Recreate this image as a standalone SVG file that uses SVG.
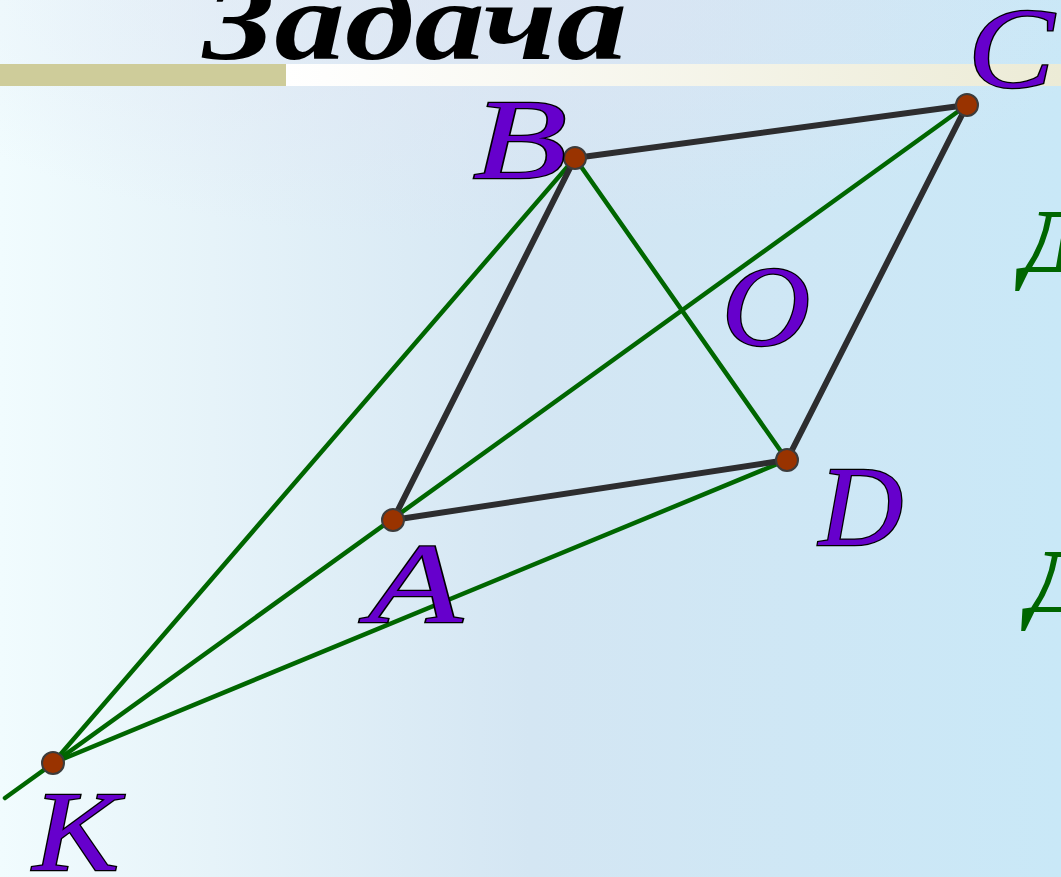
<svg xmlns="http://www.w3.org/2000/svg" width="1061" height="877" viewBox="0 0 1061 877">
<defs>
<linearGradient id="bg" x1="0" y1="0" x2="1" y2="0">
<stop offset="0" stop-color="#f1fcfe"/>
<stop offset="0.2" stop-color="#e6f3f9"/>
<stop offset="0.5" stop-color="#d4e6f3"/>
<stop offset="1" stop-color="#c9e8f7"/>
</linearGradient>
<radialGradient id="topfade" cx="0.45" cy="0" r="0.6">
<stop offset="0" stop-color="#dfe5f3" stop-opacity="0.7"/>
<stop offset="1" stop-color="#dfe5f3" stop-opacity="0"/>
</radialGradient>
<linearGradient id="bar" x1="0" y1="0" x2="1" y2="0">
<stop offset="0" stop-color="#ffffff"/>
<stop offset="1" stop-color="#ecebd6"/>
</linearGradient>
<style>
.g{stroke:#006600;stroke-width:4.5;fill:none;stroke-linecap:round}
.s{stroke:#2d2d2f;stroke-width:6;fill:none;stroke-linecap:round}
.p{fill:#993300;stroke:#3c3c3c;stroke-width:2}
.lbl{font-family:"Liberation Serif","Times New Roman",serif;font-style:italic;font-size:114px;fill:#6600cc;stroke:#000;stroke-width:2.5;paint-order:stroke}
.gr{font-family:"Liberation Serif","Times New Roman",serif;font-style:italic;font-weight:bold;font-size:90px;fill:#006600}
</style>
</defs>
<rect width="1061" height="877" fill="url(#bg)"/>
<rect width="1061" height="400" fill="url(#topfade)"/>
<g id="title">
<text x="203" y="59" font-family="'Liberation Serif','Times New Roman',serif" font-weight="bold" font-style="italic" font-size="112" fill="#000" textLength="424" lengthAdjust="spacingAndGlyphs">Задача</text>
</g>
<g id="bar">
<rect x="0" y="64" width="286" height="22" fill="#cecc9a"/>
<rect x="286" y="64" width="775" height="22" fill="url(#bar)"/>
</g>
<g id="connectors">
<line class="g" x1="5" y1="798" x2="967" y2="105"/>
<line class="g" x1="53" y1="763" x2="575" y2="158"/>
<line class="g" x1="53" y1="763" x2="787" y2="460"/>
<line class="g" x1="575" y1="158" x2="787" y2="460"/>
<line class="s" x1="393" y1="520" x2="575" y2="158"/>
<line class="s" x1="575" y1="158" x2="967" y2="105"/>
<line class="s" x1="967" y1="105" x2="787" y2="460"/>
<line class="s" x1="787" y1="460" x2="393" y2="520"/>
</g>
<g id="node-B"><circle class="p" cx="575" cy="158" r="11"/><text class="lbl" x="473" y="178" textLength="94" lengthAdjust="spacingAndGlyphs">B</text></g>
<g id="node-C"><circle class="p" cx="967" cy="105" r="11"/><text class="lbl" x="968" y="87" textLength="86" lengthAdjust="spacingAndGlyphs">C</text></g>
<g id="node-D"><circle class="p" cx="787" cy="460" r="11"/><text class="lbl" x="819" y="545" textLength="84" lengthAdjust="spacingAndGlyphs">D</text></g>
<g id="node-A"><circle class="p" cx="393" cy="520" r="11"/><text class="lbl" x="368" y="622" textLength="94" lengthAdjust="spacingAndGlyphs">A</text></g>
<g id="node-K"><circle class="p" cx="53" cy="763" r="11"/><text class="lbl" x="33" y="870" textLength="86" lengthAdjust="spacingAndGlyphs">K</text></g>
<g id="node-O"><text class="lbl" x="722" y="345" textLength="88" lengthAdjust="spacingAndGlyphs">O</text></g>
<g id="side-text">
<text class="gr" x="1022" y="272">Д</text>
<text class="gr" x="1028" y="612">Д</text>
</g>
</svg>
